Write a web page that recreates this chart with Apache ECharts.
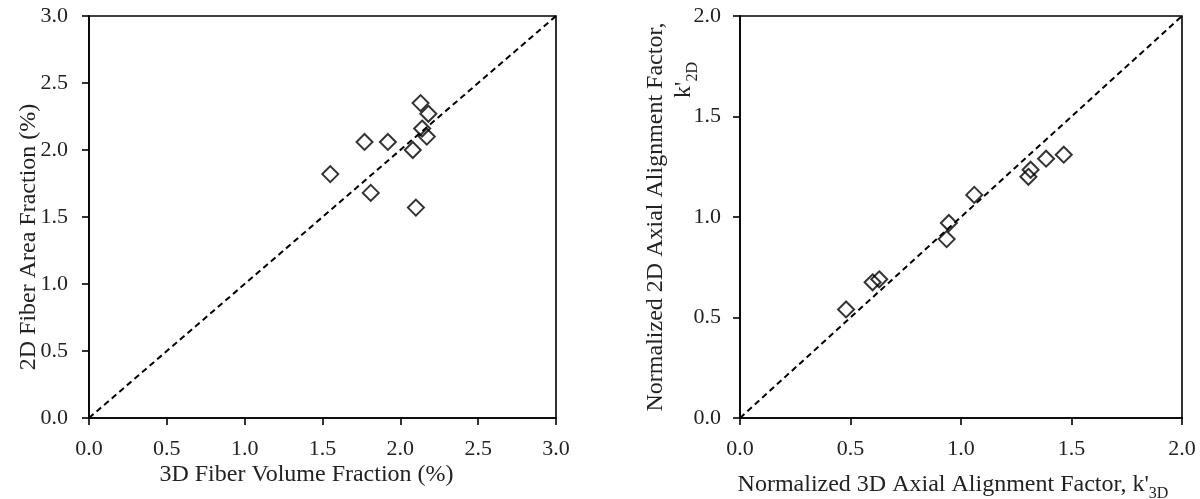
<!DOCTYPE html>
<html>
<head>
<meta charset="utf-8">
<script src="https://cdn.jsdelivr.net/npm/echarts@6/dist/echarts.min.js"></script>
<style>html,body{margin:0;padding:0;background:#fff}#c{width:1200px;height:499px}</style>
</head>
<body>
<div id="c"></div>
<script>
// Left panel: 3D fiber volume fraction vs 2D fiber area fraction (%)
const leftX = [1.55, 1.77, 1.92, 1.81, 2.08, 2.10, 2.13, 2.18, 2.14, 2.17];
const leftY = [1.82, 2.06, 2.06, 1.68, 2.00, 1.57, 2.35, 2.27, 2.16, 2.10];
// Right panel: normalized 3D vs 2D axial alignment factor
const rightX = [0.48, 0.60, 0.63, 0.935, 0.945, 1.06, 1.305, 1.315, 1.385, 1.465];
const rightY = [0.54, 0.675, 0.69, 0.89, 0.97, 1.11, 1.20, 1.235, 1.29, 1.31];
// 1:1 reference lines
const leftDiag = [[0, 0], [3, 3]];
const rightDiag = [[0, 0], [2, 2]];
const leftTicks = ['0.0', '0.5', '1.0', '1.5', '2.0', '2.5', '3.0'];
const rightTicks = ['0.0', '0.5', '1.0', '1.5', '2.0'];

const FONT = '"Liberation Serif", "Times New Roman", serif';
const TICK = 22, TITLE = 24;

function pts(xs, ys) { return xs.map((x, i) => [x, ys[i]]); }

function axisBase(max) {
  return {
    type: 'value', min: 0, max: max, interval: 0.5,
    axisLine: { show: true, onZero: false, lineStyle: { color: '#000', width: 1.6 } },
    axisTick: { show: true, inside: false, length: 7, lineStyle: { color: '#000', width: 1.6 } },
    splitLine: { show: false },
    axisLabel: { color: '#222', fontFamily: FONT, fontSize: TICK },
    nameTextStyle: { color: '#222', fontFamily: FONT, fontSize: TITLE },
    nameLocation: 'middle',
    nameMoveOverlap: false
  };
}

const scatterStyle = {
  type: 'scatter', symbol: 'diamond', symbolSize: 16,
  itemStyle: { color: 'rgba(255,255,255,0)', borderColor: '#000', borderWidth: 2 },
  z: 3
};
const diagStyle = {
  type: 'line', showSymbol: false, symbol: 'none',
  lineStyle: { color: '#000', width: 2, type: [6, 4] }, z: 2, silent: true
};

const chart = echarts.init(document.getElementById('c'), null, { renderer: 'canvas' });
chart.setOption({
  backgroundColor: '#fff',
  animation: false,
  grid: [
    { left: 89, right: 644, top: 16, bottom: 81, show: true, borderColor: '#000', borderWidth: 1.6, containLabel: false, outerBoundsMode: 'none' },
    { left: 740, right: 18, top: 16, bottom: 81, show: true, borderColor: '#000', borderWidth: 1.6, containLabel: false, outerBoundsMode: 'none' }
  ],
  xAxis: [
    Object.assign(axisBase(3), {
      gridIndex: 0, name: '3D Fiber Volume Fraction (%)', nameGap: 45,
      nameTextStyle: { color: '#222', fontFamily: FONT, fontSize: TITLE, padding: [0, 32, 0, 0] },
      axisLabel: Object.assign(axisBase(3).axisLabel, { margin: 20, formatter: (v, i) => leftTicks[i] })
    }),
    Object.assign(axisBase(2), {
      gridIndex: 1, name: "{t|Normalized 3D Axial Alignment Factor, k'}{s|3D}", nameGap: 51,
      nameTextStyle: { fontFamily: FONT, color: '#222', padding: [0, 16, 0, 0], rich: {
        t: { fontFamily: FONT, fontSize: TITLE, color: '#222', lineHeight: 28, verticalAlign: 'bottom' },
        s: { fontFamily: FONT, fontSize: 16, color: '#222', lineHeight: 28, verticalAlign: 'bottom', padding: [0, 0, -5, 0] }
      } },
      axisLabel: Object.assign(axisBase(2).axisLabel, { margin: 20, formatter: (v, i) => rightTicks[i] })
    })
  ],
  yAxis: [
    Object.assign(axisBase(3), {
      gridIndex: 0, name: '2D Fiber Area Fraction (%)', nameGap: 48, nameRotate: 90,
      nameTextStyle: { color: '#222', fontFamily: FONT, fontSize: TITLE, padding: [0, 40, 0, 0] },
      axisLabel: Object.assign(axisBase(3).axisLabel, { margin: 21, formatter: (v, i) => leftTicks[i] })
    }),
    Object.assign(axisBase(2), {
      gridIndex: 1, name: "{t|Normalized 2D Axial Alignment Factor,}\n{g|}{t|k'}{s|2D}", nameGap: 44, nameRotate: 90,
      nameTextStyle: { fontFamily: FONT, color: '#222', align: 'center', rich: {
        t: { fontFamily: FONT, fontSize: TITLE, color: '#222', lineHeight: 28, verticalAlign: 'bottom' },
        s: { fontFamily: FONT, fontSize: 16, color: '#222', lineHeight: 28, verticalAlign: 'bottom', padding: [0, 0, -5, 0] },
        g: { width: 274, lineHeight: 28 }
      } },
      axisLabel: Object.assign(axisBase(2).axisLabel, { margin: 19, formatter: (v, i) => rightTicks[i] })
    })
  ],
  series: [
    Object.assign({}, diagStyle, { xAxisIndex: 0, yAxisIndex: 0, data: leftDiag }),
    Object.assign({}, scatterStyle, { xAxisIndex: 0, yAxisIndex: 0, data: pts(leftX, leftY) }),
    Object.assign({}, diagStyle, { xAxisIndex: 1, yAxisIndex: 1, data: rightDiag }),
    Object.assign({}, scatterStyle, { xAxisIndex: 1, yAxisIndex: 1, data: pts(rightX, rightY) })
  ]
});
</script>
</body>
</html>
